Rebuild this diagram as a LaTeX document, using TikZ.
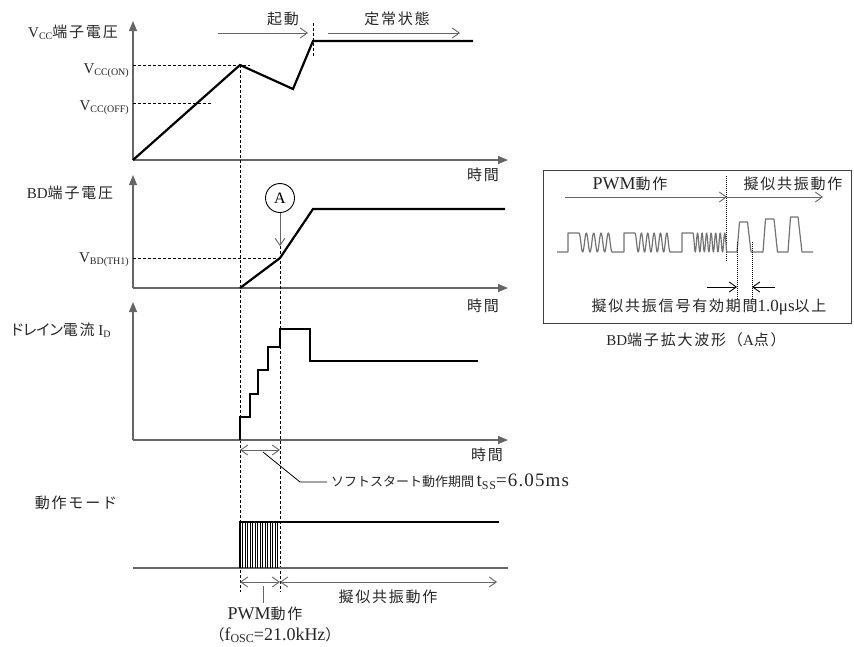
\documentclass[tikz,border=0pt]{standalone}
\usepackage{fontspec}
\setmainfont{Liberation Serif}
\newfontfamily\jp{Noto Sans CJK JP}[LetterSpace=12]
\newfontfamily\jpn{Noto Sans CJK JP}
\newfontfamily\jpp{Noto Sans CJK JP}[RawFeature=+palt]
\newfontfamily\wl{Liberation Serif}[LetterSpace=6]
\usetikzlibrary{arrows.meta}
\newcommand\sbs[1]{\raisebox{-0.3ex}{\fontsize{10}{10}\selectfont #1}}
\newcommand\sbb[1]{\raisebox{-0.3ex}{\fontsize{12}{12}\selectfont #1}}
\tikzset{
 ax/.style={draw=black!60, line width=1.1pt, -{Triangle[length=10pt,width=8pt]}},
 basel/.style={draw=black!60, line width=1.1pt},
 sig/.style={draw=black, line width=2.2pt},
 dsh/.style={draw=black, line width=0.8pt, dash pattern=on 3pt off 2pt},
 dotl/.style={draw=black, line width=0.8pt, dash pattern=on 1pt off 1pt},
 oarr/.style={draw=black!60, line width=0.9pt, -{Straight Barb[length=7pt,width=10pt]}},
 darr/.style={draw=black!60, line width=0.9pt, {Straight Barb[length=7pt,width=10pt]}-{Straight Barb[length=7pt,width=10pt]}},
 wave/.style={draw=black!55, line width=1.2pt, line join=round},
 lab/.style={inner sep=0pt, font=\fontsize{15}{18}\selectfont, text=black!85},
 hatch/.style={draw=black, line width=0.6pt},
}
\begin{document}
\begin{tikzpicture}[x=1pt,y=-1pt]
\useasboundingbox (0,0) rectangle (854,646);
% ---------- panel 1: Vcc ----------
\coordinate (o1) at (133,160);
\coordinate (y1) at (133,21);
\coordinate (x1) at (508,160);
\draw[ax] (o1) -- (y1);
\draw[ax] (o1) -- (x1);
\node[lab] (l1) at (73,32) {V\sbs{CC}{\jp 端子電圧}};
\node[lab,anchor=east] (lon) at (129,71) {V\sbs{CC(ON)}};
\node[lab,anchor=east] (loff) at (129,108) {V\sbs{CC(OFF)}};
\node[lab] (t1) at (483,175) {\jp 時間};
\coordinate (pk) at (240,65);
\coordinate (vl) at (293,89);
\coordinate (tp) at (313,41);
\coordinate (en1) at (473,41);
\draw[dsh] (133,65) -- (250,65);
\draw[dsh] (133,103) -- (212,103);
\draw[sig] (o1) -- (pk) -- (vl) -- (tp) -- (en1);
\draw[dsh] (pk) -- (240,592);
\draw[dsh] (313,23) -- (313,57);
\coordinate (s1a) at (218,33);
\coordinate (s1b) at (308,33);
\coordinate (s2a) at (328,33);
\coordinate (s2b) at (460,33);
\draw[oarr] (s1a) -- (s1b);
\draw[oarr] (s2a) -- (s2b);
\node[lab] (ki) at (283,19) {\jp 起動};
\node[lab] (te) at (397,19) {\jp 定常状態};
% ---------- panel 2: BD ----------
\coordinate (o2) at (133,288);
\draw[ax] (o2) -- (133,175);
\draw[ax] (o2) -- (508,288);
\node[lab] (l2) at (70,193) {BD{\jp 端子電圧}};
\node[lab,anchor=east] (lbd) at (129,260) {V\sbs{BD(TH1)}};
\node[lab] (t2) at (483,306) {\jp 時間};
\coordinate (b0) at (240,288);
\coordinate (b1) at (280,258);
\coordinate (b2) at (313,209);
\coordinate (b3) at (505,209);
\draw[dsh] (133,258) -- (b1);
\draw[sig] (b0) -- (b1) -- (b2) -- (b3);
\node[draw=black, line width=0.9pt, circle, minimum size=29pt, inner sep=0pt, font=\fontsize{16}{18}\selectfont] (A) at (280,198) {A};
\coordinate (Aend) at (280,246);
\draw[oarr] (A.south) -- (Aend);
\draw[dsh] (Aend) -- (280,592);
% ---------- panel 3: ID ----------
\coordinate (o3) at (133,440);
\draw[ax] (o3) -- (133,302);
\draw[ax] (o3) -- (508,440);
\node[lab] (l3) at (61,330) {{\jpp ドレイン}{\jp 電流} I\sbs{D}};
\node[lab] (t3) at (487,455) {\jp 時間};
\draw[sig, line join=miter] (240,440) -- (240,417) -- (250,417) -- (250,394) -- (258,394) -- (258,370) -- (268,370) -- (268,347) -- (280,347) -- (280,329) -- (310,329) -- (310,361) -- (478,361);
\coordinate (ss1) at (240,450);
\coordinate (ss2) at (280,450);
\draw[darr] (ss1) -- (ss2);
\coordinate (ld1) at (263,452);
\coordinate (ld2) at (300,482);
\coordinate (ld3) at (327,482);
\draw[draw=black, line width=0.8pt] (ld1) -- (ld2) -- (ld3);
\node[inner sep=0pt, anchor=west, text=black!85] (ssl) at (331,482) {{\jpn\fontsize{13}{15}\selectfont ソフトスタート動作期間} {\wl\fontsize{19}{20}\selectfont t\raisebox{-0.3ex}{\fontsize{12}{12}\selectfont SS}=6.05ms}};
% ---------- panel 4: mode ----------
\node[lab] (l4) at (76,503) {\jp 動作モード};
\coordinate (o4) at (133,568);
\draw[basel] (o4) -- (508,568);
\foreach \x in {242.5,245,...,278} \draw[hatch] (\x,522) -- (\x,568);
\draw[sig] (240,568) -- (240,522) -- (499,522);
\coordinate (m1) at (240,582);
\coordinate (m2) at (280,582);
\coordinate (m3) at (497,582);
\draw[darr] (m1) -- (m2);
\draw[darr] (m2) -- (m3);
\draw[draw=black!60, line width=0.9pt] (263,586) -- (263,603);
\node[lab] (pw) at (265,614) {{\fontsize{18}{18}\selectfont PWM}{\jp 動作}};
\node[lab] (fo) at (275,635) {{\jp （}{\fontsize{18}{18}\selectfont f\sbb{OSC}=21.0kHz}{\jp ）}};
\node[lab] (qr) at (388,597) {\jp 擬似共振動作};
% ---------- inset ----------
\node[draw=black!75, line width=1.2pt, minimum width=308pt, minimum height=153pt, anchor=north west, inner sep=0pt] (box) at (543,170) {};
\node[lab] (ip) at (630,184) {{\fontsize{18}{18}\selectfont PWM}{\jp 動作}};
\node[lab] (iq) at (793,184) {\jp 擬似共振動作};
\coordinate (ia) at (565,197);
\coordinate (ib) at (727,197);
\coordinate (ic) at (823,197);
\draw[oarr] (ia) -- (ib);
\draw[oarr] (ib) -- (ic);
\draw[dotl] (726,176) -- (726,262);
\draw[wave] (557,252) -- (568,252) -- (568,233) -- (579,233)
  -- plot[domain=579:612,samples=90] (\x,{242.5-9.5*cos(360*(\x-579)/7.333)})
  -- (624,252) -- (624,233) -- (635,233)
  -- plot[domain=635:670,samples=100] (\x,{242.5-9.5*cos(360*(\x-635)/6.364)})
  -- (682,252) -- (682,233) -- (693,233)
  -- plot[domain=693:727,samples=120] (\x,{242.5-9.5*cos(360*(\x-693)/4.533)})
  -- (737,252) -- (739.5,222) -- (747.5,222) -- (751,252) -- (763,252) -- (765.5,219) -- (774,219) -- (777.5,252) -- (788,252) -- (790.5,217) -- (798,217) -- (802,252) -- (813,252);
\draw[dotl] (737,242) -- (737,300);
\draw[dotl] (752,242) -- (752,300);
\coordinate (ma) at (707,287);
\coordinate (mb) at (737,287);
\coordinate (mc) at (775,287);
\coordinate (md) at (752,287);
\draw[oarr, draw=black] (ma) -- (mb);
\draw[oarr, draw=black] (mc) -- (md);
\node[lab] (iv) at (709,307) {{\jp 擬似共振信号有効期間}{\fontsize{17}{18}\selectfont 1.0μs}{\jp 以上}};
\node[lab] (cap) at (696,340) {BD{\jp 端子拡大波形（}A{\jp 点）}};
\end{tikzpicture}
\end{document}
